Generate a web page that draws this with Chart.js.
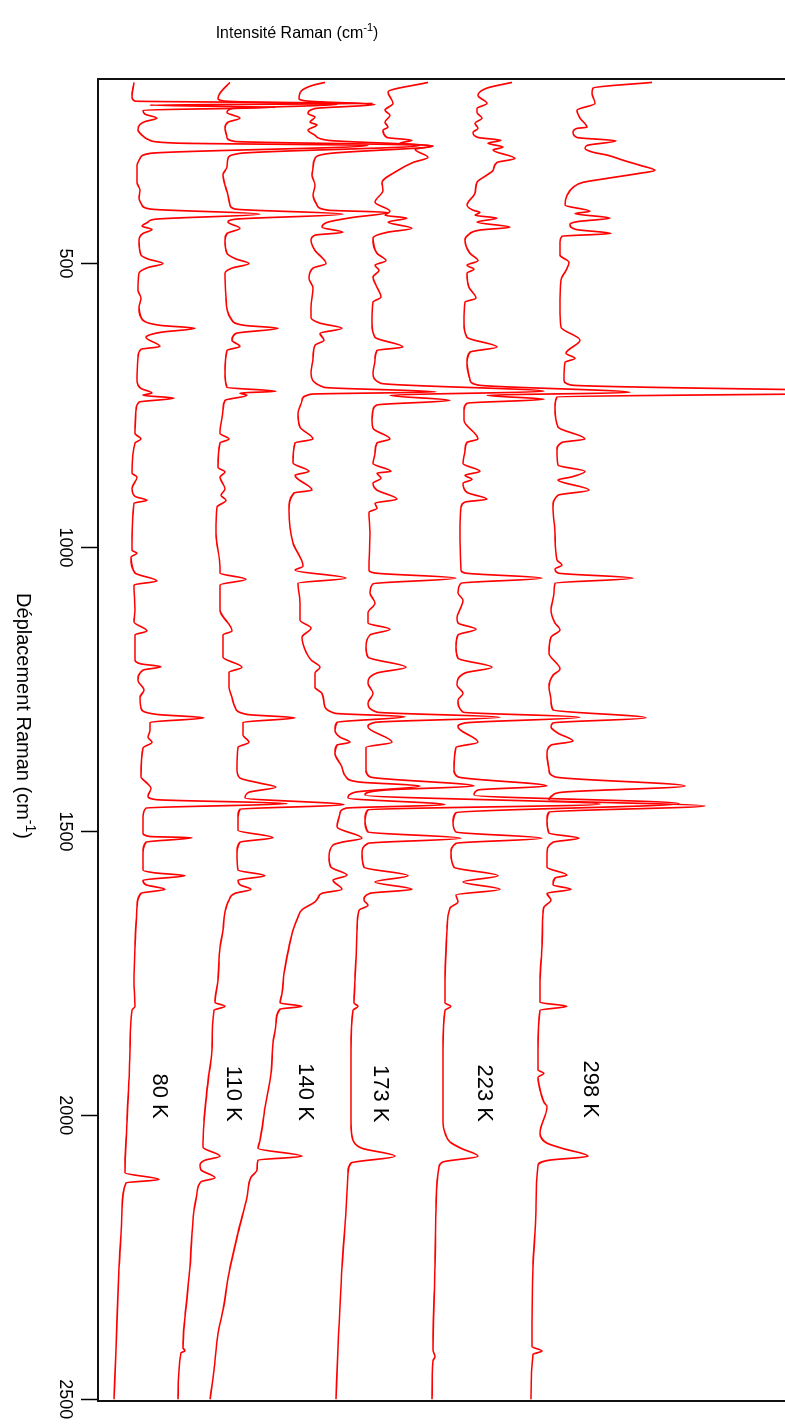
<!DOCTYPE html>
<html>
<head>
<meta charset="utf-8">
<title>Spectres Raman</title>
<script src="https://cdn.jsdelivr.net/npm/chart.js@4.4.1/dist/chart.umd.min.js"></script>
<style>
html, body { margin: 0; padding: 0; background: #fff; overflow: hidden; }
/* the plot is drawn lying down, then turned a quarter turn clockwise */
#wrap {
    position: absolute; left: 0; top: 0;
    width: 1428px; height: 785px;
    transform-origin: 0 0;
    transform: translateX(785px) rotate(90deg);
}
</style>
</head>
<body>
<div id="wrap"><canvas id="ramanChart" width="1428" height="785"></canvas></div>
<script>
// Raman shift (cm-1), intensity (a.u., offset spectra)
const k80 = [[181,36],[207,34],[214,37],[218,275],[221,52],[225,177],[230,45],[237,47],[244,59],[250,47],[255,42],[264,40],[274,44],[283,52],[288,80],[292,270],[306,52],[315,42],[327,39],[357,39],[371,42],[385,41],[397,44],[404,52],[413,162],[422,57],[427,50],[434,44],[440,54],[447,45],[459,41],[485,43],[492,50],[500,65],[507,50],[517,41],[547,40],[561,43],[577,41],[600,45],[609,63],[614,97],[621,63],[630,48],[646,62],[651,43],[665,40],[705,39],[720,43],[728,54],[732,45],[737,76],[744,41],[758,38],[799,37],[809,43],[816,37],[869,34],[876,39],[896,34],[910,37],[917,49],[922,36],[1005,34],[1010,39],[1017,33],[1045,37],[1059,59],[1066,36],[1110,37],[1131,36],[1147,49],[1154,37],[1198,37],[1205,43],[1210,63],[1216,45],[1234,40],[1251,46],[1264,42],[1283,43],[1294,59],[1300,106],[1308,52],[1322,52],[1334,50],[1343,54],[1353,45],[1404,43],[1415,49],[1424,53],[1438,50],[1444,58],[1451,189],[1459,48],[1475,45],[1503,45],[1509,52],[1511,94],[1519,48],[1538,45],[1568,45],[1573,57],[1578,87],[1586,45],[1594,48],[1602,67],[1609,43],[1633,39],[1704,37],[1762,36],[1808,37],[1815,34],[1885,32],[2013,29],[2101,27],[2113,61],[2119,28],[2167,24],[2267,21],[2413,18],[2500,16]];
const k110 = [[181,132],[200,122],[209,120],[214,127],[220,239],[227,134],[234,129],[244,142],[251,130],[262,127],[278,129],[285,137],[292,322],[306,142],[315,130],[330,129],[344,125],[362,127],[380,130],[397,132],[404,137],[413,245],[422,137],[427,130],[438,142],[447,129],[459,127],[482,129],[492,138],[500,151],[508,134],[517,127],[559,128],[600,134],[609,147],[614,180],[623,138],[635,134],[646,142],[653,129],[693,127],[718,129],[725,178],[728,142],[732,149],[741,127],[758,125],[799,122],[809,131],[816,122],[859,120],[867,127],[876,122],[897,127],[908,123],[917,128],[929,119],[975,118],[1035,122],[1045,122],[1056,148],[1066,122],[1110,122],[1147,134],[1154,125],[1193,125],[1211,144],[1220,131],[1246,131],[1264,134],[1281,137],[1294,149],[1300,197],[1308,145],[1330,145],[1343,151],[1352,140],[1392,139],[1406,142],[1415,162],[1422,178],[1431,151],[1441,147],[1453,246],[1461,142],[1475,140],[1498,140],[1511,175],[1519,142],[1538,139],[1568,140],[1578,167],[1586,140],[1594,142],[1602,153],[1609,137],[1621,131],[1642,127],[1674,125],[1704,122],[1762,120],[1801,117],[1808,127],[1815,116],[1885,114],[1926,111],[2013,106],[2056,105],[2072,122],[2079,107],[2088,102],[2096,103],[2110,117],[2117,103],[2137,99],[2167,96],[2267,92],[2355,87],[2409,85],[2415,87],[2418,83],[2500,80]];
const k140 = [[181,227],[186,215],[195,204],[209,201],[214,210],[220,277],[227,217],[236,210],[242,217],[251,212],[256,219],[265,210],[274,217],[283,230],[293,335],[306,232],[315,217],[332,215],[344,214],[362,217],[380,215],[397,219],[406,230],[410,290],[419,254],[427,230],[436,224],[445,245],[450,217],[459,213],[477,217],[500,228],[508,215],[526,211],[543,215],[577,213],[595,213],[605,222],[614,244],[623,222],[635,226],[644,217],[667,215],[693,213],[718,226],[726,338],[730,213],[741,204],[764,200],[788,202],[809,215],[816,197],[851,195],[866,211],[873,197],[899,214],[904,196],[934,191],[992,195],[1033,205],[1040,197],[1054,248],[1063,200],[1098,202],[1128,202],[1142,213],[1158,204],[1184,208],[1198,213],[1211,222],[1221,217],[1246,217],[1257,224],[1274,226],[1292,237],[1298,307],[1308,239],[1322,237],[1334,242],[1343,252],[1348,239],[1362,237],[1387,244],[1404,248],[1413,261],[1420,322],[1431,257],[1441,250],[1453,347],[1459,248],[1468,242],[1492,239],[1512,264],[1519,244],[1524,235],[1545,231],[1563,233],[1577,249],[1586,235],[1602,244],[1609,224],[1617,220],[1624,217],[1638,204],[1651,200],[1674,195],[1704,191],[1750,186],[1785,184],[1802,182],[1808,204],[1813,182],[1838,178],[1873,175],[1926,173],[1986,167],[2044,162],[2058,160],[2072,204],[2079,160],[2096,159],[2109,153],[2144,149],[2207,140],[2278,131],[2343,125],[2384,120],[2449,116],[2500,112]];
const k173 = [[181,330],[198,290],[218,295],[230,287],[239,292],[251,287],[260,290],[265,285],[278,289],[283,314],[288,302],[293,335],[299,317],[313,330],[322,315],[339,297],[357,284],[371,285],[392,277],[408,292],[415,287],[420,309],[427,290],[438,314],[445,289],[455,275],[482,279],[495,288],[503,277],[512,281],[524,275],[542,279],[559,283],[568,275],[605,274],[630,277],[647,305],[653,279],[670,277],[693,275],[711,283],[725,446],[732,292],[741,352],[749,279],[758,275],[776,274],[790,275],[809,292],[816,279],[834,277],[852,275],[866,293],[869,279],[878,283],[887,275],[899,279],[915,299],[922,277],[931,279],[938,271],[975,272],[1040,271],[1045,277],[1054,358],[1064,275],[1080,272],[1098,277],[1115,270],[1133,270],[1144,292],[1154,272],[1175,268],[1193,270],[1211,308],[1221,279],[1239,270],[1257,275],[1274,270],[1290,279],[1299,402],[1308,277],[1316,270],[1343,294],[1352,268],[1392,268],[1404,272],[1420,376],[1427,288],[1436,267],[1452,502],[1462,270],[1480,267],[1501,270],[1512,363],[1521,270],[1538,264],[1563,266],[1578,310],[1589,277],[1602,314],[1609,272],[1621,266],[1630,270],[1639,261],[1674,259],[1762,257],[1802,256],[1808,260],[1815,255],[1885,253],[2013,253],[2044,255],[2058,264],[2072,297],[2084,253],[2102,250],[2167,248],[2267,244],[2409,240],[2500,238]];
const k223 = [[181,414],[191,389],[204,380],[218,389],[227,379],[234,379],[244,384],[253,377],[262,380],[269,375],[278,380],[283,403],[288,390],[295,405],[300,395],[315,417],[322,399],[336,395],[344,389],[357,379],[376,377],[397,369],[406,375],[410,382],[415,377],[420,399],[427,379],[436,412],[441,382],[450,370],[459,367],[482,372],[495,380],[503,369],[510,376],[517,369],[542,371],[561,378],[568,367],[605,366],[630,369],[647,399],[656,372],[675,369],[705,372],[714,380],[727,532],[732,389],[739,446],[746,369],[758,366],[776,366],[809,380],[815,369],[829,367],[852,365],[866,382],[873,367],[880,374],[887,365],[903,369],[915,389],[920,367],[929,363],[975,362],[1040,363],[1045,367],[1054,444],[1063,363],[1080,360],[1093,365],[1105,363],[1124,359],[1133,360],[1144,378],[1154,360],[1175,358],[1195,360],[1211,394],[1221,367],[1242,359],[1257,365],[1269,360],[1290,365],[1299,482],[1309,367],[1316,360],[1343,380],[1352,358],[1392,356],[1404,360],[1420,449],[1427,380],[1436,376],[1451,581],[1467,358],[1485,355],[1501,358],[1512,444],[1521,358],[1538,353],[1563,356],[1578,400],[1589,365],[1602,402],[1612,358],[1624,360],[1635,352],[1674,349],[1762,347],[1802,347],[1808,353],[1815,347],[1885,345],[2013,345],[2031,347],[2047,352],[2058,363],[2072,380],[2082,345],[2091,341],[2167,338],[2267,337],[2413,335],[2425,337],[2432,335],[2500,334]];
const k298 = [[181,554],[191,495],[200,494],[218,497],[230,479],[244,482],[260,489],[262,479],[269,475],[278,479],[284,518],[292,489],[297,487],[304,495],[309,509],[318,525],[327,542],[336,557],[341,542],[350,509],[357,485],[366,475],[380,469],[397,467],[408,492],[412,477],[420,512],[426,480],[431,472],[440,478],[447,513],[452,464],[462,462],[485,462],[498,471],[512,468],[529,463],[577,462],[612,463],[635,482],[658,468],[667,477],[674,467],[705,466],[714,473],[727,802],[735,459],[753,457],[788,460],[809,487],[815,464],[829,459],[855,460],[866,487],[876,473],[881,460],[899,491],[908,460],[929,455],[975,457],[1022,459],[1031,464],[1038,457],[1045,460],[1054,535],[1063,457],[1080,456],[1110,453],[1133,457],[1145,462],[1158,453],[1186,451],[1214,462],[1225,455],[1246,451],[1269,453],[1286,455],[1300,548],[1309,455],[1316,453],[1327,460],[1341,475],[1348,453],[1362,449],[1392,451],[1404,457],[1420,587],[1431,464],[1436,455],[1445,451],[1455,607],[1466,451],[1480,449],[1503,451],[1512,481],[1519,455],[1538,449],[1563,449],[1577,469],[1582,457],[1594,455],[1602,473],[1609,449],[1621,453],[1633,446],[1644,445],[1704,444],[1762,442],[1801,442],[1808,469],[1815,442],[1885,440],[1920,440],[1926,446],[1933,440],[1961,443],[1977,446],[1985,449],[2031,442],[2049,449],[2058,464],[2072,490],[2079,451],[2088,440],[2167,438],[2267,435],[2407,434],[2415,444],[2421,435],[2500,433]];

const temps = ['80 K', '110 K', '140 K', '173 K', '223 K', '298 K'];
const tickValues = [500, 1000, 1500, 2000, 2500];

// where each temperature label sits, in data units (shift, intensity)
const labelAt = [[1966, 61], [1962, 135], [1959, 207], [1962, 282], [1961, 386], [1954, 492]];

const FONT = '"Liberation Sans", Arial, sans-serif';

function unitTitle(ctx, text, x, y, size) {
    ctx.font = size + 'px ' + FONT;
    const w1 = ctx.measureText(text + ' (cm').width;
    const w3 = ctx.measureText(')').width;
    ctx.font = Math.round(size * 0.68) + 'px ' + FONT;
    const w2 = ctx.measureText('-1').width;
    let left = x - (w1 + w2 + w3) / 2;
    ctx.textAlign = 'left';
    ctx.textBaseline = 'alphabetic';
    ctx.font = size + 'px ' + FONT;
    ctx.fillText(text + ' (cm', left, y);
    ctx.font = Math.round(size * 0.68) + 'px ' + FONT;
    ctx.fillText('-1', left + w1, y - size * 0.45);
    ctx.font = size + 'px ' + FONT;
    ctx.fillText(')', left + w1 + w2, y);
}

const annotate = {
    id: 'annotate',
    afterDatasetsDraw(chart) {
        const { ctx, scales: { x, y } } = chart;
        ctx.save();
        ctx.fillStyle = '#000';
        ctx.textAlign = 'center';
        ctx.textBaseline = 'middle';
        ctx.font = '22px ' + FONT;
        temps.forEach((t, i) => {
            ctx.fillText(t, x.getPixelForValue(labelAt[i][0]), y.getPixelForValue(labelAt[i][1]));
        });

        unitTitle(ctx, 'Déplacement Raman', 716, 768, 20);

        ctx.translate(38, 488);
        ctx.rotate(-Math.PI / 2);
        unitTitle(ctx, 'Intensité Raman', 0, 0, 16);
        ctx.restore();
    }
};

const series = [k80, k110, k140, k173, k223, k298];

new Chart(document.getElementById('ramanChart'), {
    type: 'line',
    data: {
        datasets: series.map((s, i) => ({
            label: temps[i],
            data: s.map(([x, y]) => ({ x, y })),
            borderColor: '#ff0000',
            borderWidth: 1.7,
            pointRadius: 0,
            cubicInterpolationMode: 'monotone',
            fill: false
        }))
    },
    options: {
        responsive: false,
        animation: false,
        devicePixelRatio: 1,
        layout: { padding: 0 },
        plugins: {
            legend: { display: false },
            tooltip: { enabled: false }
        },
        scales: {
            x: {
                type: 'linear',
                position: 'bottom',
                min: 175,
                max: 2503,
                afterFit: s => { s.height = 98; },
                afterBuildTicks: s => { s.ticks = tickValues.map(v => ({ value: v })); },
                ticks: {
                    color: '#000',
                    font: { family: FONT, size: 18 },
                    padding: 5,
                    maxRotation: 0,
                    minRotation: 0,
                    callback: v => String(v)
                },
                grid: {
                    drawOnChartArea: false,
                    tickLength: 17,
                    tickWidth: 1.5,
                    tickColor: '#000'
                },
                border: { display: true, color: '#111', width: 2 }
            },
            y: {
                position: 'left',
                min: 0,
                max: 687,
                afterFit: s => { s.width = 79; },
                ticks: { display: false },
                grid: { display: false },
                border: { display: true, color: '#111', width: 2 }
            },
            y2: {
                position: 'right',
                min: 0,
                max: 687,
                afterFit: s => { s.width = 27; },
                ticks: { display: false },
                grid: { display: false },
                border: { display: true, color: '#111', width: 2 }
            }
        }
    },
    plugins: [annotate]
});
</script>
</body>
</html>
